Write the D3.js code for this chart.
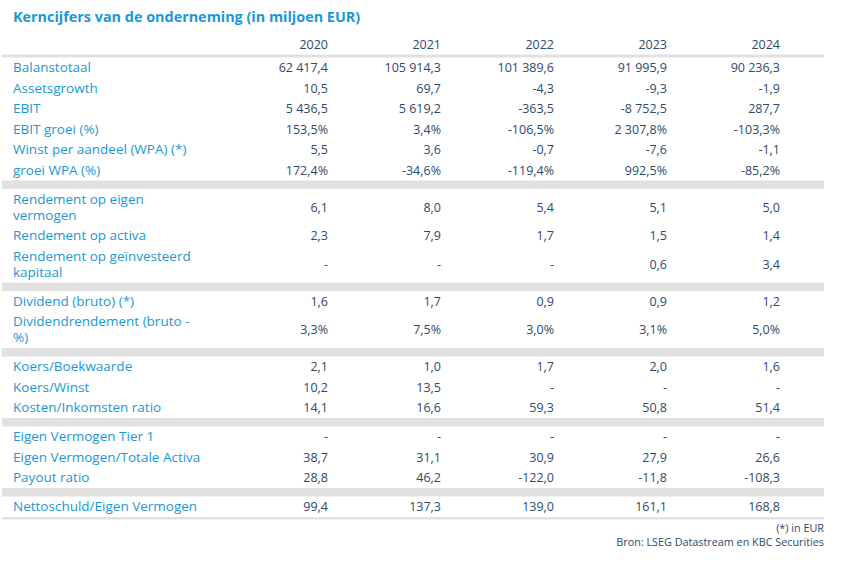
<!DOCTYPE html>
<html>
<head>
<meta charset="utf-8">
<script src="https://cdn.jsdelivr.net/npm/d3@7"></script>
<style>
  html, body { margin: 0; padding: 0; background: #fff; }
  svg { display: block; }
</style>
</head>
<body>
<div id="table"></div>
<script>
const years = ['2020', '2021', '2022', '2023', '2024'];

// each label is a list of lines, sections are split by a grey band
const rowLabels = [
  ['Balanstotaal'], ['Assetsgrowth'], ['EBIT'], ['EBIT groei (%)'],
  ['Winst per aandeel (WPA) (*)'], ['groei WPA (%)'],
  ['Rendement op eigen', 'vermogen'], ['Rendement op activa'],
  ['Rendement op geïnvesteerd', 'kapitaal'],
  ['Dividend (bruto) (*)'], ['Dividendrendement (bruto -', '%)'],
  ['Koers/Boekwaarde'], ['Koers/Winst'], ['Kosten/Inkomsten ratio'],
  ['Eigen Vermogen Tier 1'], ['Eigen Vermogen/Totale Activa'], ['Payout ratio'],
  ['Nettoschuld/Eigen Vermogen']
];
const sectionStarts = [6, 9, 11, 14, 17];

const val2020 = ['62 417,4', '10,5', '5 436,5', '153,5%', '5,5', '172,4%', '6,1', '2,3', '-', '1,6', '3,3%', '2,1', '10,2', '14,1', '-', '38,7', '28,8', '99,4'];
const val2021 = ['105 914,3', '69,7', '5 619,2', '3,4%', '3,6', '-34,6%', '8,0', '7,9', '-', '1,7', '7,5%', '1,0', '13,5', '16,6', '-', '31,1', '46,2', '137,3'];
const val2022 = ['101 389,6', '-4,3', '-363,5', '-106,5%', '-0,7', '-119,4%', '5,4', '1,7', '-', '0,9', '3,0%', '1,7', '-', '59,3', '-', '30,9', '-122,0', '139,0'];
const val2023 = ['91 995,9', '-9,3', '-8 752,5', '2 307,8%', '-7,6', '992,5%', '5,1', '1,5', '0,6', '0,9', '3,1%', '2,0', '-', '50,8', '-', '27,9', '-11,8', '161,1'];
const val2024 = ['90 236,3', '-1,9', '287,7', '-103,3%', '-1,1', '-85,2%', '5,0', '1,4', '3,4', '1,2', '5,0%', '1,6', '-', '51,4', '-', '26,6', '-108,3', '168,8'];
const values = [val2020, val2021, val2022, val2023, val2024];

const title = 'Kerncijfers van de onderneming (in miljoen EUR)';
const footnotes = ['(*) in EUR', 'Bron: LSEG Datastream en KBC Securities'];

const width = 841;
const height = 563;
const left = 2, right = 824;
const labelX = 13;
const singleH = 20.5, doubleH = 36.5, bandH = 8.5, lineGap = 16;
const blue = '#1a98d5';
const ink = '#2e4a6b';
const grey = '#e1e1e1';
const font = "'Open Sans', sans-serif";

// work out the top of every row
const rows = [];
let y = 57.5;
rowLabels.forEach((label, i) => {
  if (sectionStarts.includes(i)) {
    rows.push({ band: true, y0: y });
    y += bandH;
  }
  const h = label.length > 1 ? doubleH : singleH;
  rows.push({ band: false, i, label, y0: y, h });
  y += h;
});
const tableBottom = y;

const x = d3.scalePoint()
  .domain(years)
  .range([328, 780]);

const svg = d3.select('#table')
  .append('svg')
  .attr('width', width)
  .attr('height', height)
  .style('font-family', font);

svg.append('text')
  .attr('x', labelX)
  .attr('y', 22)
  .attr('fill', blue)
  .attr('font-size', '14.4px')
  .attr('font-weight', 'bold')
  .text(title);

// header
svg.selectAll('.year')
  .data(years)
  .enter()
  .append('text')
  .attr('class', 'year')
  .attr('x', d => x(d))
  .attr('y', 45)
  .attr('dy', '.35em')
  .attr('text-anchor', 'end')
  .attr('fill', ink)
  .attr('font-size', '12.5px')
  .text(d => d);

svg.append('rect')
  .attr('x', left).attr('y', 54.5)
  .attr('width', right - left).attr('height', 3)
  .attr('fill', grey);

// grey section bands
svg.selectAll('.band')
  .data(rows.filter(r => r.band))
  .enter()
  .append('rect')
  .attr('class', 'band')
  .attr('x', left)
  .attr('y', d => d.y0)
  .attr('width', right - left)
  .attr('height', bandH)
  .attr('fill', grey);

svg.append('rect')
  .attr('x', left).attr('y', tableBottom)
  .attr('width', right - left).attr('height', 2.5)
  .attr('fill', grey);

const dataRows = rows.filter(r => !r.band);

const rowG = svg.selectAll('.row')
  .data(dataRows)
  .enter()
  .append('g')
  .attr('class', 'row')
  .attr('transform', d => `translate(0,${d.y0 + d.h / 2})`);

rowG.append('text')
  .attr('x', labelX)
  .attr('fill', blue)
  .attr('font-size', '13.5px')
  .selectAll('tspan')
  .data(d => d.label.map((t, k) => ({ t, k, n: d.label.length })))
  .enter()
  .append('tspan')
  .attr('x', labelX)
  .attr('y', d => (d.k - (d.n - 1) / 2) * lineGap)
  .attr('dy', '.35em')
  .text(d => d.t);

rowG.selectAll('.val')
  .data(d => years.map((yr, j) => ({ yr, v: values[j][d.i] })))
  .enter()
  .append('text')
  .attr('class', 'val')
  .attr('x', d => x(d.yr))
  .attr('dy', '.35em')
  .attr('text-anchor', 'end')
  .attr('fill', ink)
  .attr('font-size', '12.5px')
  .text(d => d.v);

svg.selectAll('.foot')
  .data(footnotes)
  .enter()
  .append('text')
  .attr('class', 'foot')
  .attr('x', right)
  .attr('y', (d, k) => tableBottom + 11 + k * 14)
  .attr('dy', '.35em')
  .attr('text-anchor', 'end')
  .attr('fill', ink)
  .attr('font-size', '10.8px')
  .text(d => d);
</script>
</body>
</html>
